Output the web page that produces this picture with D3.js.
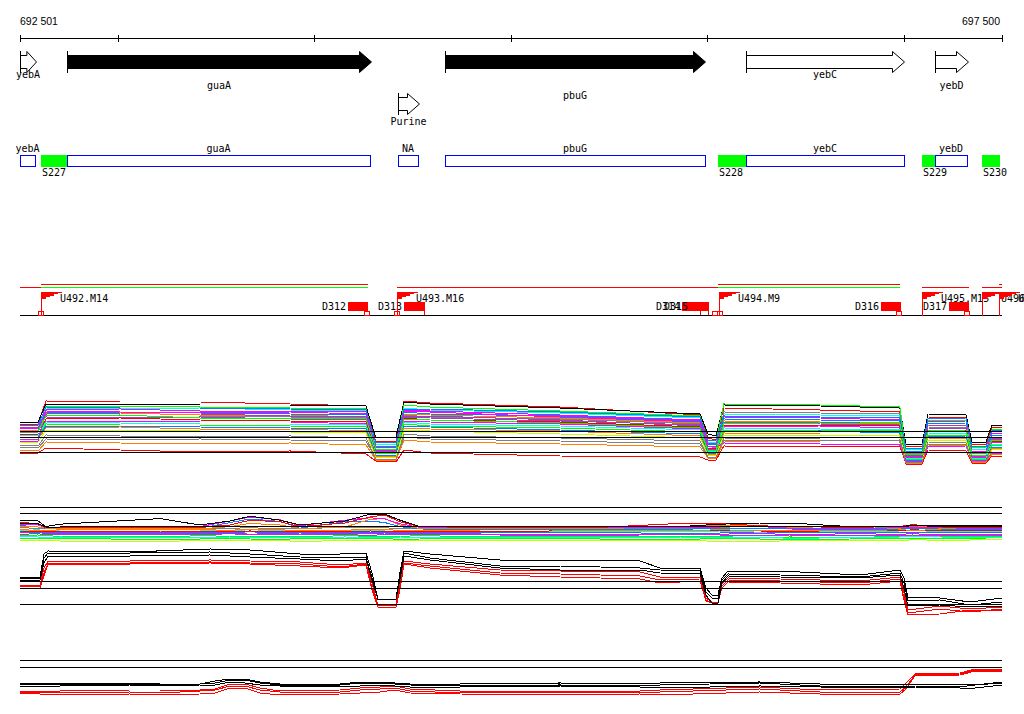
<!DOCTYPE html>
<html><head><meta charset="utf-8">
<script src="https://cdn.jsdelivr.net/npm/d3@7"></script>
<style>body{margin:0;background:#fff}svg{display:block}text{font-family:"DejaVu Sans Mono",monospace;font-size:10px;fill:#000}</style>
</head><body><svg id="c" width="1024" height="714"></svg>
<script>
// ---------- data ----------
const rulerTicks = [692501, 693000, 694000, 695000, 696000, 697000, 697500];
const rulerLabels = ["692 501", "697 500"];

const geneNames  = ["yebA", "guaA", "Purine", "pbuG", "yebC", "yebD"];
const geneStarts = [692501, 692740, 694425, 694664, 696197, 697159];
const geneEnds   = [692582, 694288, 694532, 695988, 697001, 697327];
const geneFilled = [false, true, false, true, false, false];
const geneRow    = [0, 0, 1, 0, 0, 0];
const geneLabelLevel = [0, 1, 0.5, 2, 0, 1];

const annotNames  = ["yebA", "guaA", "NA", "pbuG", "yebC", "yebD"];
const annotStarts = [692501, 692740, 694425, 694664, 696197, 697159];
const annotEnds   = [692577, 694283, 694527, 695988, 697001, 697322];
const siteNames  = ["S227", "S228", "S229", "S230"];
const siteStarts = [692608, 696054, 697093, 697398];
const siteEnds   = [692740, 696197, 697159, 697490];

const segStarts = [692501, 692608, 692608, 694420, 696054, 696054, 697093, 697398, 697485];
const segEnds   = [692608, 694272, 694272, 696054, 696980, 696980, 697332, 697500, 697500];
const segLevel  = [1, 1, 0, 1, 1, 0, 1, 1, 0];
const segKind   = ["R", "G", "R", "R", "G", "R", "R", "R", "R"];

const upNames = ["U492.M14", "U493.M16", "U494.M9", "U495.M15", "U496.M11", "U497.M2"];
const upPos   = [692608, 694420, 696059, 697093, 697398, 697485];
const downNames  = ["D312", "D313", "D314", "D315", "D316", "D317"];
const downStarts = [694171, 694456, 695871, 695912, 696884, 697230];
const downEnds   = [694272, 694563, 695968, 696008, 696985, 697332];
const downEndMark = ["box", "tick", "tick", "tick", "box", "box"];
const tssMarks = [692608, 694266, 694422, 696041, 696062, 696975, 697322];

// panel 1 (many samples)
const p1Pos = [692501,692593,692633,693010,693417,693876,694262,694313,694415,694456,694588,695250,695963,696003,696044,696084,696573,696980,697011,697093,697123,697317,697347,697418,697449,697500];
const p1Ref = [9.9, 9.3, 7.8];
const p1Series = [
 [10.6,10.6,12.9,12.8,12.8,12.6,12.4, 8.8,8.9, 12.9,12.7,12.3,11.5, 9.2,9.0, 12.2,12.0,11.8, 8.3,8.4, 11.3,11.2, 8.5,8.6, 10.3,10.3],
 [10.8,10.8,12.6,12.6,12.5,12.5,12.4, 9.2,9.3, 12.8,12.6,12.2,11.6, 9.6,9.4, 12.5,12.4,12.2, 8.6,8.6, 11.6,11.5, 8.8,8.8, 10.5,10.5],
 [10.2,10.3,12.4,12.4,12.3,12.2,12.1, 8.5,8.6, 12.5,12.3,11.9,11.4, 9.0,8.9, 12.6,12.5,12.3, 8.0,8.1, 11.0,11.0, 8.2,8.3, 10.0,10.1],
 [10.5,10.4,12.2,12.1,12.2,12.0,11.9, 8.6,8.5, 12.2,12.0,11.7,11.2, 8.8,8.7, 11.6,11.5,11.4, 8.1,8.0, 11.2,11.1, 8.0,8.1, 9.8,9.9],
 [10.1,10.2,12.0,12.1,11.9,11.9,11.8, 8.2,8.3, 12.0,11.9,11.5,11.0, 8.6,8.5, 11.3,11.2,11.0, 7.8,7.9, 10.8,10.9, 7.9,7.9, 9.6,9.7],
 [9.9,10.0,11.8,11.8,11.7,11.6,11.5, 8.3,8.2, 11.8,11.6,11.4,10.9, 8.5,8.6, 11.1,11.0,10.9, 7.9,7.8, 10.6,10.7, 7.8,7.8, 9.4,9.5],
 [10.0,9.9,11.6,11.7,11.5,11.5,11.3, 8.0,8.1, 11.6,11.5,11.2,10.7, 8.3,8.4, 10.9,10.8,10.7, 7.6,7.7, 10.4,10.5, 7.7,7.6, 9.3,9.3],
 [9.7,9.8,11.5,11.4,11.4,11.3,11.2, 8.1,8.0, 11.5,11.3,11.1,10.6, 8.4,8.2, 11.8,11.7,11.6, 7.7,7.6, 10.3,10.2, 7.6,7.7, 9.2,9.1],
 [10.3,10.2,11.3,11.2,11.3,11.1,11.0, 8.4,8.4, 11.3,11.2,10.9,10.5, 8.7,8.6, 10.7,10.6,10.5, 7.5,7.5, 10.2,10.1, 7.5,7.5, 9.0,9.1],
 [9.6,9.5,11.1,11.2,11.0,10.9,10.8, 7.9,7.8, 11.2,11.0,10.8,10.3, 8.2,8.1, 10.5,10.5,10.4, 7.4,7.4, 10.0,10.0, 7.4,7.3, 8.9,8.9],
 [9.4,9.5,10.9,10.9,10.8,10.8,10.6, 7.8,7.9, 10.9,10.8,10.6,10.1, 8.0,8.1, 10.3,10.4,10.2, 7.3,7.2, 9.8,9.9, 7.3,7.3, 8.8,8.7],
 [9.5,9.4,10.8,10.7,10.6,10.6,10.5, 7.7,7.6, 10.8,10.6,10.4,10.0, 7.9,7.8, 10.2,10.1,10.0, 7.2,7.2, 9.7,9.6, 7.2,7.2, 8.6,8.6],
 [9.2,9.3,10.6,10.5,10.5,10.4,10.3, 7.6,7.7, 10.6,10.4,10.2,9.8, 7.8,7.7, 10.0,10.0,9.9, 7.1,7.0, 9.5,9.5, 7.1,7.0, 8.5,8.4],
 [9.3,9.2,10.4,10.4,10.3,10.2,10.1, 7.5,7.5, 10.4,10.3,10.0,9.6, 7.7,7.6, 9.8,9.9,9.7, 7.0,7.0, 9.3,9.4, 7.0,7.0, 8.3,8.3],
 [9.0,9.1,10.2,10.3,10.1,10.1,9.9, 7.4,7.3, 10.2,10.1,9.9,9.4, 7.6,7.5, 9.7,9.6,9.6, 6.9,6.9, 9.2,9.1, 6.9,6.9, 8.2,8.2],
 [8.7,8.8,10.0,10.0,9.9,9.8,9.7, 7.2,7.3, 10.0,9.9,9.6,9.2, 7.5,7.4, 9.5,9.5,9.4, 6.8,6.8, 9.0,9.0, 6.9,6.8, 8.0,8.1],
 [8.5,8.4,9.5,9.4,9.3,9.4,9.2, 7.1,7.0, 9.6,9.4,9.2,8.9, 7.3,7.2, 9.2,9.1,9.1, 6.8,6.7, 8.8,8.7, 6.8,6.8, 7.8,7.8],
 [8.0,7.9,8.8,8.7,8.6,8.7,8.5, 7.0,7.0, 9.0,8.8,8.6,8.3, 7.2,7.1, 8.9,8.8,8.8, 6.7,6.7, 8.5,8.4, 6.8,6.7, 7.6,7.6],
 [7.6,7.7,8.2,8.0,7.8,7.9,7.6, 6.9,6.8, 8.0,7.7,7.4,7.3, 7.0,7.0, 8.4,8.3,8.4, 6.6,6.6, 8.0,7.9, 6.7,6.7, 7.4,7.3],
 [8.8,8.9,11.9,11.8,11.7,11.8,11.6, 8.0,8.0, 11.9,11.8,11.3,10.8, 8.4,8.3, 8.7,8.6,8.5, 6.9,6.9, 8.3,8.4, 7.0,7.0, 7.7,7.7],
 [10.4,10.5,12.3,12.2,12.2,12.1,12.0, 8.7,8.8, 12.1,12.1,11.8,11.3, 8.9,9.0, 11.4,11.3,11.2, 8.2,8.2, 11.1,11.2, 8.4,8.3, 9.9,10.0],
 [9.1,9.0,11.7,11.6,11.6,11.4,11.4, 7.9,7.9, 11.4,11.4,11.0,10.4, 8.1,8.1, 10.8,10.8,10.6, 7.4,7.3, 10.5,10.4, 7.4,7.4, 9.1,9.2],
 [9.9,9.9,11.4,11.5,11.2,11.2,11.1, 8.1,8.1, 11.1,11.0,10.7,10.2, 8.0,8.0, 10.6,10.7,10.6, 7.6,7.5, 9.9,10.0, 7.5,7.5, 9.0,8.9],
 [8.3,8.2,9.1,9.0,9.1,9.0,8.9, 7.1,7.1, 9.3,9.1,8.9,8.6, 7.3,7.3, 9.0,9.0,8.9, 6.7,6.8, 8.6,8.6, 6.9,6.9, 7.7,7.8]
];

// panel 2
const p2Pos = [692501,692593,692633,692705,693214,693417,693570,693672,693825,693926,694155,694283,694359,694435,694537,694944,695453,695861,696064,696268,696421,696726,696980,697042,697184,697500];
const p2Ref = [9.5, 8.0];
const p2Series = [
 [2.4,2.5,2.3,2.2,2.1,2.3,2.2,2.0,2.2,2.1,2.3,2.2,2.0,2.2,2.3,2.1,2.0,2.2,2.1,1.8,2.0,1.9,2.1,2.3,2.2,2.1],
 [1.2,1.0,1.1,1.0,0.9,1.1,1.2,1.0,1.1,0.9,1.1,1.2,1.0,1.1,1.2,1.1,1.0,1.2,0.9,0.8,1.1,1.0,1.1,1.3,1.2,1.3],
 [1.6,1.7,1.5,1.6,1.4,1.5,1.7,1.5,1.4,1.6,1.5,1.7,1.6,1.4,1.5,1.6,1.5,1.4,1.6,1.5,1.3,1.5,1.6,1.7,1.6,1.8],
 [2.1,2.0,1.9,2.0,1.8,1.9,2.0,1.8,1.9,1.8,2.0,1.9,1.8,2.0,1.9,1.8,1.9,2.0,1.8,1.9,1.7,1.8,2.0,2.1,2.0,1.9],
 [2.7,2.8,2.6,2.7,2.5,2.6,2.8,2.6,2.5,2.7,2.6,2.4,2.6,2.5,2.7,2.5,2.4,2.6,2.5,2.3,2.5,2.4,2.3,2.5,2.4,2.5],
 [3.0,3.1,2.9,3.0,2.8,2.9,3.0,2.7,2.9,3.0,2.8,2.9,3.0,2.8,2.9,2.7,2.6,2.8,2.7,2.9,2.6,2.8,2.7,2.8,2.6,2.7],
 [3.3,3.2,3.1,3.2,3.0,3.2,3.1,3.3,3.0,3.1,3.2,3.0,3.2,3.1,3.0,3.2,3.1,2.9,3.0,3.2,3.0,3.1,3.0,3.2,3.1,3.0],
 [3.6,3.8,3.6,3.5,3.4,3.5,3.6,3.8,3.6,3.5,3.6,3.7,3.5,3.4,3.4,3.3,3.4,3.3,3.5,3.2,3.4,3.3,3.5,3.6,3.4,3.3],
 [3.5,3.4,3.3,3.4,3.5,3.3,3.4,3.5,3.3,3.4,3.3,3.5,3.4,3.3,3.5,3.4,3.6,3.5,3.7,3.5,3.4,3.6,3.5,3.8,3.6,3.5],
 [3.8,3.7,3.6,3.8,3.9,3.8,3.7,3.9,3.8,3.6,3.7,3.9,3.8,3.7,3.6,3.8,3.7,3.6,3.8,3.6,3.7,3.6,3.8,3.7,3.8,3.9],
 [4.3,4.2,4.1,4.2,4.0,4.1,4.2,4.3,4.1,4.2,4.3,4.4,4.3,4.1,4.0,4.1,4.0,4.2,4.3,4.1,4.0,4.1,4.4,4.6,4.5,4.6],
 [4.9,5.2,4.0,4.1,4.0,4.2,5.6,6.5,5.9,4.2,5.8,6.0,5.6,4.6,4.0,3.9,4.0,3.9,4.2,4.1,4.0,3.9,4.0,4.1,4.0,3.8],
 [4.6,4.5,4.2,4.0,4.1,4.0,4.6,5.4,5.0,4.1,4.5,6.4,6.6,5.0,4.1,4.2,4.1,4.6,5.0,4.7,4.4,4.0,4.2,4.9,4.2,4.2],
 [5.2,5.0,4.4,4.5,4.5,4.6,6.0,7.0,6.3,4.8,6.2,6.8,6.5,5.3,4.4,4.3,4.5,4.4,4.5,4.6,4.2,4.1,4.3,4.4,4.3,4.1],
 [5.6,5.4,4.3,4.4,4.5,4.4,5.0,6.2,5.8,4.6,5.5,7.0,7.5,5.8,4.6,4.3,4.4,5.4,5.4,4.8,4.6,4.4,4.6,5.1,4.5,4.4],
 [5.4,5.3,4.5,4.5,4.6,4.5,4.6,4.7,4.6,4.5,4.6,4.5,4.6,4.5,4.6,4.5,4.6,4.5,4.6,4.7,4.5,4.6,4.7,4.8,4.8,4.9],
 [6.1,6.0,4.6,5.2,6.6,5.0,6.0,7.2,6.2,5.0,6.0,7.7,7.7,6.2,4.6,4.5,4.6,4.6,5.2,5.5,5.5,4.6,4.6,4.8,4.7,4.7]
];

// panel 3
const p3Pos = [692501,692603,692623,692644,693061,693468,693672,693926,694130,694262,694293,694323,694415,694435,694456,694588,694944,695250,695657,695759,695963,695993,696023,696054,696074,696105,696370,696777,696980,697001,697021,697184,697337,697500];
const p3Ref = [-0.33, -1.03, -2.63];
const p3Black = [
 [0.1,0.1,2.4,2.7,2.6,2.9,2.8,2.4,2.4,2.5,0.5,-2.1,-2.1,0.5,2.7,2.4,1.8,1.8,1.7,1.0,1.0,-1.0,-1.7,-1.7,0.0,0.7,0.7,0.3,0.8,0.0,-1.9,-2.0,-2.4,-2.0],
 [0.0,0.0,2.0,2.5,2.5,2.6,2.4,2.1,2.0,2.1,0.0,-2.1,-2.1,0.0,2.5,2.0,1.2,1.2,1.0,0.8,0.7,-1.4,-2.0,-2.0,-0.2,0.4,0.3,0.1,0.5,-0.5,-2.3,-2.2,-2.7,-2.4],
 [-0.2,-0.2,1.5,2.2,2.2,2.3,2.1,1.9,1.7,1.9,-0.2,-2.1,-2.1,-0.2,2.2,1.8,1.0,0.8,0.8,0.5,0.4,-1.7,-2.5,-2.5,-0.5,0.2,0.1,0.0,0.3,-1.0,-2.8,-2.7,-2.9,-2.8]
];
const p3Red = [
 [-0.7,-0.7,1.0,1.7,1.7,1.8,1.7,1.6,1.3,1.5,-0.5,-2.7,-2.7,-0.5,1.7,1.4,0.8,0.7,0.6,0.1,0.1,-2.0,-2.4,-2.4,-0.6,0.0,-0.1,-0.3,0.1,-1.5,-3.2,-2.8,-3.1,-2.9],
 [-0.8,-0.8,0.5,1.5,1.5,1.6,1.5,1.4,1.1,1.4,-1.0,-2.9,-2.9,-1.0,1.5,1.2,0.5,0.4,0.2,-0.2,-0.1,-2.2,-2.5,-2.5,-0.8,-0.2,-0.3,-0.5,-0.1,-2.0,-3.5,-3.1,-3.4,-3.1],
 [-1.0,-1.0,0.2,1.4,1.4,1.5,1.4,1.2,1.0,1.3,-1.2,-2.9,-2.9,-1.2,1.4,1.0,0.3,0.1,-0.1,-0.5,-0.3,-2.3,-2.5,-2.5,-1.0,-0.4,-0.5,-0.7,-0.3,-2.2,-3.7,-3.6,-3.2,-3.2]
];

// panel 4
const p4Pos = [692501,692603,692705,693061,693214,693417,693494,693570,693646,693723,693825,694130,694232,694334,694410,694486,694741,695250,695657,695759,696268,696573,696980,697006,697057,697286,697363,697500];
const p4Ref = [4.0, 3.3];
const p4Black = [
 [1.7,1.7,1.7,1.7,1.6,1.6,1.9,2.1,2.1,1.8,1.6,1.6,1.8,1.8,1.7,1.6,1.6,1.7,1.6,1.7,1.8,1.6,1.6,1.6,1.6,1.6,1.5,1.8],
 [1.6,1.5,1.6,1.6,1.5,1.6,1.7,2.0,2.0,1.7,1.5,1.5,1.7,1.7,1.6,1.5,1.4,1.5,1.4,1.5,1.7,1.4,1.4,1.4,1.4,1.3,1.5,1.7],
 [1.4,1.4,1.4,1.5,1.4,1.5,1.5,1.8,1.7,1.5,1.4,1.4,1.4,1.5,1.4,1.3,1.3,1.4,1.3,1.2,1.4,1.3,1.2,1.3,1.3,1.2,1.2,1.5]
];
const p4Red = [
 [0.8,0.9,0.9,1.0,1.0,1.0,1.1,1.6,1.6,1.2,0.9,1.0,1.2,1.3,1.4,1.1,0.9,0.9,0.9,1.0,1.3,1.0,1.1,1.6,2.6,2.7,3.1,3.0],
 [0.7,0.8,0.7,0.8,0.7,0.9,1.0,1.4,1.4,1.0,0.8,0.8,1.0,1.1,1.2,0.9,0.7,0.8,0.8,0.8,1.1,0.8,0.8,1.2,2.5,2.6,3.0,2.9],
 [0.7,0.6,0.5,0.6,0.5,0.6,0.7,1.2,1.2,0.7,0.5,0.6,0.7,0.8,1.0,0.7,0.6,0.5,0.6,0.5,0.8,0.6,0.6,1.0,2.4,2.5,2.9,2.9]
];

// ---------- drawing ----------
const palette1 = ["#ff0000","#000000","#00ff00","#00ffff","#ff00ff","#0080ff","#ff8000","#808080","#a040c0","#ff0000","#ff00ff","#00ffff","#00ff00","#0080ff","#ff8000","#c0ff00","#808080","#ff8000","#ff0000","#ff00ff","#0080ff","#a040c0","#00ff00","#808080"];
const palette2 = ["#00ff00","#c0ff00","#00ff00","#00ffff","#a040c0","#ff00ff","#0080ff","#00ffff","#ff0000","#ff8000","#808080","#0080ff","#ff8000","#ff00ff","#ff0000","#000000","#000000"];

const svg = d3.select("#c");
svg.append("rect").attr("width",1024).attr("height",714).attr("fill","#fff");
const x = d3.scaleLinear().domain([rulerTicks[0], rulerTicks[rulerTicks.length-1]]).range([20, 1002]);
const px = v => Math.round(x(v));

// ruler
const gR = svg.append("g").attr("shape-rendering","crispEdges");
gR.append("line").attr("x1",x(rulerTicks[0])).attr("x2",x(rulerTicks[rulerTicks.length-1]))
  .attr("y1",38.5).attr("y2",38.5).attr("stroke","#000");
gR.selectAll("line.tk").data(rulerTicks).join("line").attr("class","tk")
  .attr("x1",d=>px(d)+0.5).attr("x2",d=>px(d)+0.5).attr("y1",35).attr("y2",42).attr("stroke","#000");
gR.append("text").attr("x",x(rulerTicks[0])).attr("y",24.5).style("font-family","Liberation Sans").style("font-size","10.5px").text(rulerLabels[0]);
gR.append("text").attr("x",x(rulerTicks[rulerTicks.length-1])-2).attr("y",24.5).attr("text-anchor","end")
  .style("font-family","Liberation Sans").style("font-size","10.5px").text(rulerLabels[1]);

// genes
const rowTop = [51, 93], arrowH = 21;
const gG = svg.append("g").attr("shape-rendering","crispEdges");
geneNames.forEach((n,i)=>{
  const x0 = px(geneStarts[i]), x1 = px(geneEnds[i]);
  const t = rowTop[geneRow[i]], b = t + arrowH, m = (t+b)/2;
  const head = Math.min(12, (x1-x0)*0.6), ins = 4;
  const p = `M${x0+0.5},${t+ins+0.5}H${x1-head+0.5}V${t+0.5}L${x1+0.5},${m+0.5}L${x1-head+0.5},${b+0.5}V${b-ins+0.5}H${x0+0.5}Z`;
  gG.append("path").attr("d",p).attr("fill",geneFilled[i]?"#000":"#fff").attr("stroke","#000").attr("shape-rendering","auto");
  gG.append("line").attr("x1",x0+0.5).attr("x2",x0+0.5).attr("y1",t).attr("y2",b+1).attr("stroke","#000");
  gG.append("text").attr("x",(x0+x1)/2).attr("y",b+6+geneLabelLevel[i]*10.5).attr("text-anchor","middle").text(n);
});

// annotation boxes
const gA = svg.append("g").attr("shape-rendering","crispEdges");
siteNames.forEach((n,i)=>{
  gA.append("rect").attr("x",px(siteStarts[i])).attr("y",155).attr("width",px(siteEnds[i])-px(siteStarts[i])).attr("height",12).attr("fill","#00ff00");
  gA.append("text").attr("x",px(siteStarts[i])+1).attr("y",176).text(n);
});
annotNames.forEach((n,i)=>{
  const x0 = px(annotStarts[i]), x1 = px(annotEnds[i]);
  gA.append("rect").attr("x",x0+0.5).attr("y",155.5).attr("width",x1-x0).attr("height",11).attr("fill","none").attr("stroke","#0000ff");
  gA.append("text").attr("x",(x0+x1)/2).attr("y",152).attr("text-anchor","middle").text(n);
});

// feature track
const gF = svg.append("g").attr("shape-rendering","crispEdges");
const segY = [284.5, 287.5], segCol = {R:"#ff0000", G:"#00ff00"};
segStarts.forEach((s,i)=>{
  gF.append("line").attr("x1",px(s)).attr("x2",px(segEnds[i])).attr("y1",segY[segLevel[i]]).attr("y2",segY[segLevel[i]]).attr("stroke",segCol[segKind[i]]);
});
gF.append("line").attr("x1",x(rulerTicks[0])).attr("x2",x(rulerTicks[rulerTicks.length-1])).attr("y1",315.5).attr("y2",315.5).attr("stroke","#000");
downNames.forEach((n,i)=>{
  const x0 = px(downStarts[i]), x1 = px(downEnds[i]);
  gF.append("rect").attr("x",x0).attr("y",302).attr("width",x1-x0).attr("height",9).attr("fill","#ff0000");
  if (downEndMark[i]==="tick") gF.append("line").attr("x1",x1-0.5).attr("x2",x1-0.5).attr("y1",311).attr("y2",315).attr("stroke","#ff0000");
  gF.append("text").attr("x",x0-2).attr("y",310).attr("text-anchor","end").text(n);
});
tssMarks.forEach(p=>{
  const c = px(p);
  gF.append("rect").attr("x",c-2.5).attr("y",311.5).attr("width",5).attr("height",4).attr("fill","none").attr("stroke","#ff0000");
});
upNames.forEach((n,i)=>{
  const f = px(upPos[i]);
  gF.append("line").attr("x1",f+0.5).attr("x2",f+0.5).attr("y1",292).attr("y2",316).attr("stroke","#ff0000");
  const st = `M${f},292H${f+21}V293H${f+17}V294H${f+13}V296H${f+9}V297H${f+5}V299H${f+1}V301H${f}Z`;
  gF.append("path").attr("d",st).attr("fill","#ff0000");
  gF.append("text").attr("x",f+19).attr("y",302).text(n);
});

// line panels
function panel(pos, series, colors, domain, range, refs) {
  const y = d3.scaleLinear().domain(domain).range(range);
  const line = d3.line().x((d,i)=>x(pos[i])).y(d=>y(d));
  const g = svg.append("g").attr("shape-rendering","crispEdges").attr("fill","none");
  series.forEach((s,i)=>{
    g.append("path").attr("d",line(s)).attr("stroke",colors[i]).attr("stroke-width",1);
  });
  refs.forEach(r=>{
    g.append("line").attr("x1",x(rulerTicks[0])).attr("x2",x(rulerTicks[rulerTicks.length-1]))
      .attr("y1",Math.round(y(r))+0.5).attr("y2",Math.round(y(r))+0.5).attr("stroke","#000");
  });
}
panel(p1Pos, p1Series, palette1, [6,14], [470,390], p1Ref);
panel(p2Pos, p2Series, palette2, [0,10], [545,505], p2Ref);
panel(p3Pos, p3Red.concat(p3Black), ["#ff0000","#ff0000","#ff0000","#000","#000","#000"], [-4.2,3.5], [620,543], p3Ref);
panel(p4Pos, p4Red.concat(p4Black), ["#ff0000","#ff0000","#ff0000","#000","#000","#000"], [0,4.5], [700,655], p4Ref);
</script></body></html>
